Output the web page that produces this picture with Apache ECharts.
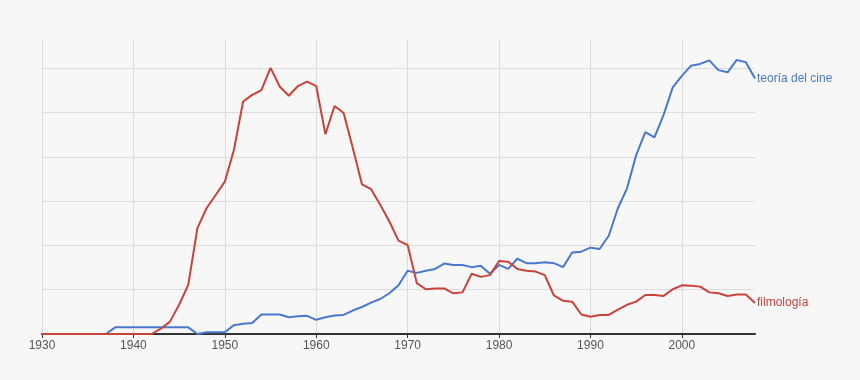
<!DOCTYPE html>
<html><head><meta charset="utf-8">
<script src="https://cdn.jsdelivr.net/npm/echarts@6/dist/echarts.min.js"></script>
<style>html,body{margin:0;padding:0;background:#f7f7f7}#c{width:860px;height:380px}</style>
</head><body><div id="c"></div>
<script>
const years = [];
for (let y = 1930; y <= 2008; y++) years.push(String(y));
const seriesNames = ['teoría del cine', 'filmología'];
// 1930..2008
const teoria = [
 0,0,0,0,0,0,0,0,0.15,0.15, // 1930-1939
 0.15,0.15,0.15,0.15,0.15,0.15,0.15,0,0.04,0.04, // 1940-1949
 0.04,0.2,0.23,0.25,0.44,0.44,0.44,0.38,0.40,0.41, // 1950-1959
 0.32,0.38,0.42,0.43,0.53,0.61,0.71,0.79,0.92,1.10, // 1960-1969
 1.43,1.38,1.43,1.47,1.59,1.56,1.56,1.51,1.54,1.36, // 1970-1979
 1.56,1.47,1.70,1.60,1.60,1.62,1.60,1.51,1.84,1.86, // 1980-1989
 1.95,1.92,2.22,2.84,3.29,4.04,4.56,4.44,4.95,5.57, // 1990-1999
 5.83,6.06,6.10,6.18,5.96,5.91,6.19,6.14,5.77        // 2000-2008
];
const filmologia = [
 0,0,0,0,0,0,0,0,0,0,
 0,0,0,0.12,0.28,0.66,1.11,2.39,2.84,3.14,
 3.44,4.16,5.25,5.40,5.51,6.01,5.59,5.38,5.60,5.70,
 5.60,4.51,5.15,4.99,4.20,3.38,3.27,2.92,2.54,2.11,
 2.01,1.15,1.01,1.03,1.03,0.92,0.94,1.36,1.29,1.33,
 1.65,1.63,1.47,1.43,1.41,1.33,0.87,0.75,0.73,0.44,
 0.39,0.43,0.43,0.55,0.66,0.73,0.88,0.88,0.86,1.01,
 1.10,1.09,1.07,0.94,0.92,0.86,0.89,0.89,0.70
];
const colors = ['#4a78cc', '#c8433a'];
const chart = echarts.init(document.getElementById('c'), null, {renderer:'canvas'});
const mk = (name, data, color) => ({
  name, type:'line', data, symbol:'none', smooth:false,
  lineStyle:{color, width:2}, itemStyle:{color},
  endLabel:{show:true, formatter:name, color, fontSize:12, fontFamily:'Arial, Liberation Sans, sans-serif', distance:2},
  animation:false
});
chart.setOption({
  backgroundColor:'#f7f7f7',
  animation:false,
  grid:{left:42, right:105, top:40, bottom:46, containLabel:false},
  xAxis:{
    type:'category', data:years, boundaryGap:false,
    axisLine:{lineStyle:{color:'#333', width:2}},
    axisTick:{show:true, length:4, alignWithLabel:true, lineStyle:{color:'#333'},
      interval:(i,v)=>(+v)%10===0},
    axisLabel:{color:'#555', fontSize:12, fontFamily:'Arial, Liberation Sans, sans-serif', margin:6,
      interval:(i,v)=>(+v)%10===0},
    splitLine:{show:true, lineStyle:{color:'#dcdcdc', width:1},
      interval:(i,v)=>(+v)%10===0}
  },
  yAxis:{
    type:'value', min:0, max:6.64, interval:1,
    axisLine:{show:false}, axisTick:{show:false}, axisLabel:{show:false},
    splitLine:{show:true, showMaxLine:false, lineStyle:{color:'#dcdcdc', width:1}}
  },
  series:[mk(seriesNames[0], teoria, colors[0]), mk(seriesNames[1], filmologia, colors[1])]
});
</script></body></html>
